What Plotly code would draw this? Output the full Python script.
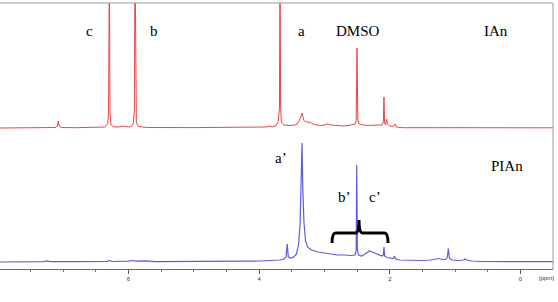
import plotly.graph_objects as go

# ---- data (chemical shift in ppm, intensity in arbitrary units) ----
red_ppm = [7.97, 7.5, 7.2, 7.12, 7.09, 7.075, 7.06, 7.03, 6.8, 6.6,
           6.4, 6.36, 6.32, 6.305, 6.294, 6.283, 6.27, 6.24, 6.15, 6.08,
           6.0, 5.96, 5.925, 5.91, 5.901, 5.892, 5.88, 5.85, 5.7, 5.0,
           4.5, 4.0, 3.9, 3.85, 3.8, 3.75, 3.71, 3.69, 3.681, 3.672,
           3.66, 3.62, 3.55, 3.45, 3.42, 3.38, 3.344, 3.32, 3.29, 3.27,
           3.25, 3.22, 3.18, 3.12, 3.05, 2.95, 2.9, 2.8, 2.7, 2.6,
           2.53, 2.515, 2.503, 2.49, 2.47, 2.4, 2.3, 2.2, 2.12, 2.1,
           2.09, 2.08, 2.065, 2.05, 2.035, 2.0, 1.95, 1.92, 1.9, 1.8,
           1.6, 1.3, 1.0, 0.5, 0.0, -0.5]
red_int = [0.0, 0.2, 0.3, 0.5, 2.0, 7.0, 2.0, 0.5, 0.3, 0.4,
           0.7, 1.0, 4.0, 15.0, 170.0, 15.0, 4.0, 1.2, 1.0, 2.0,
           1.0, 1.5, 5.0, 18.0, 180.0, 18.0, 5.0, 1.5, 0.5, 0.4,
           0.5, 0.6, 1.0, 2.0, 1.2, 2.0, 6.0, 20.0, 180.0, 20.0,
           6.0, 3.0, 2.5, 3.0, 4.0, 8.0, 15.0, 8.0, 6.0, 7.0,
           5.0, 6.0, 4.0, 3.0, 2.5, 4.0, 3.0, 2.5, 2.0, 3.0,
           4.0, 8.0, 80.0, 8.0, 4.0, 3.0, 2.5, 3.0, 3.0, 6.0,
           31.0, 5.0, 3.0, 9.0, 4.0, 2.0, 1.5, 4.0, 1.0, 0.3,
           0.5, 0.3, 0.3, 0.2, 0.2, 0.2]

blue_ppm = [7.97, 7.3, 7.25, 7.2, 6.8, 6.33, 6.29, 6.25, 6.0, 5.92,
            5.88, 5.72, 5.6, 5.0, 4.5, 4.2, 4.0, 3.8, 3.68, 3.62,
            3.59, 3.57, 3.555, 3.52, 3.47, 3.43, 3.40, 3.375, 3.358, 3.344,
            3.333, 3.315, 3.29, 3.26, 3.2, 3.1, 3.0, 2.9, 2.8, 2.7,
            2.6, 2.53, 2.515, 2.507, 2.497, 2.48, 2.43, 2.38, 2.31, 2.25,
            2.18, 2.12, 2.10, 2.09, 2.08, 2.05, 2.0, 1.95, 1.93, 1.91,
            1.85, 1.7, 1.5, 1.38, 1.30, 1.25, 1.2, 1.15, 1.12, 1.105,
            1.09, 1.05, 0.95, 0.87, 0.85, 0.82, 0.75, 0.6, 0.0, -0.5]
blue_int = [0.0, 0.3, 1.2, 0.3, 0.3, 0.5, 1.5, 0.5, 0.8, 1.5,
            0.8, 1.2, 0.4, 0.3, 0.5, 0.8, 1.0, 1.5, 2.0, 3.0,
            5.0, 18.0, 5.0, 4.0, 5.0, 8.0, 16.0, 36.0, 75.0, 119.0,
            75.0, 40.0, 21.0, 15.0, 12.0, 10.0, 9.0, 8.0, 7.0, 7.0,
            6.5, 7.0, 12.0, 97.0, 12.0, 7.0, 6.0, 8.0, 11.0, 9.5,
            7.5, 6.0, 7.0, 15.0, 6.0, 4.5, 4.0, 3.5, 6.0, 3.0,
            2.0, 1.5, 1.5, 2.0, 2.5, 3.5, 2.5, 2.5, 5.0, 13.5,
            4.0, 2.0, 1.5, 2.0, 3.0, 2.0, 1.0, 0.5, 0.4, 0.4]

tick_vals = [6, 4, 2, 0]
tick_text = ["6", "4", "2", "0"]

# peak labels: (text, ppm, height on the lower axis)
label_text = ["c", "b", "a", "DMSO", "IAn", "a\u2019", "PIAn", "b\u2019", "c\u2019"]
label_ppm = [6.59, 5.61, 3.36, 2.495, 0.375, 3.66, 0.21, 2.69, 2.22]
label_h = [231, 231, 231, 231, 231, 104, 96, 65, 65]

brace_left, brace_mid, brace_right = 2.885, 2.472, 2.028
brace_low, brace_bar, brace_tip = 19, 29, 42

RED = "#e4474c"
BLUE = "#5c5ce2"

fig = go.Figure()
fig.add_trace(go.Scatter(x=red_ppm, y=red_int, mode="lines",
                         line=dict(color=RED, width=1), yaxis="y2",
                         hoverinfo="skip"))
fig.add_trace(go.Scatter(x=blue_ppm, y=blue_int, mode="lines",
                         line=dict(color=BLUE, width=1.2), yaxis="y",
                         hoverinfo="skip"))

c = 0.055
brace_path = (
    f"M {brace_left},{brace_low} Q {brace_left},{brace_bar} {brace_left - c},{brace_bar} "
    f"L {brace_mid + c},{brace_bar} Q {brace_mid},{brace_bar} {brace_mid},{brace_tip} "
    f"Q {brace_mid},{brace_bar} {brace_mid - c},{brace_bar} "
    f"L {brace_right + c},{brace_bar} Q {brace_right},{brace_bar} {brace_right},{brace_low}"
)

shapes = [
    dict(type="line", xref="paper", yref="paper", x0=0, x1=1, y0=1, y1=1,
         line=dict(color="#9a9a9a", width=1)),
    dict(type="line", xref="paper", yref="paper", x0=1, x1=1, y0=0, y1=1,
         line=dict(color="#9a9a9a", width=1)),
    dict(type="path", xref="x", yref="y", path=brace_path,
         line=dict(color="black", width=3)),
]

annotations = []
for t, xp, yh in zip(label_text, label_ppm, label_h):
    annotations.append(dict(text=t, x=xp, y=yh, xref="x", yref="y",
                            showarrow=False, xanchor="center", yanchor="middle",
                            font=dict(family="Liberation Serif", size=15, color="black")))
annotations.append(dict(text="[ppm]", x=-0.39, y=0, xref="x", yref="paper",
                        yshift=-4, showarrow=False, xanchor="center", yanchor="top",
                        font=dict(family="Liberation Sans", size=6, color="#333")))

fig.update_layout(
    width=558, height=302,
    margin=dict(l=0, r=5, t=3, b=33),
    paper_bgcolor="white", plot_bgcolor="white",
    showlegend=False,
    shapes=shapes,
    annotations=annotations,
    xaxis=dict(range=[7.967, -0.497], tickmode="array", tickvals=tick_vals,
               ticktext=tick_text, ticks="outside", ticklen=4, tickcolor="#555",
               showline=True, linecolor="#666", linewidth=1, showgrid=False,
               zeroline=False, tickfont=dict(family="Liberation Sans", size=6, color="#333"),
               minor=dict(tickmode="linear", tick0=0, dtick=0.5, ticks="outside",
                          ticklen=2, tickcolor="#777", showgrid=False)),
    yaxis=dict(range=[-7, 259], visible=False, fixedrange=True),
    yaxis2=dict(range=[-141, 125], overlaying="y", visible=False, fixedrange=True),
)

fig.write_html("out.html")
